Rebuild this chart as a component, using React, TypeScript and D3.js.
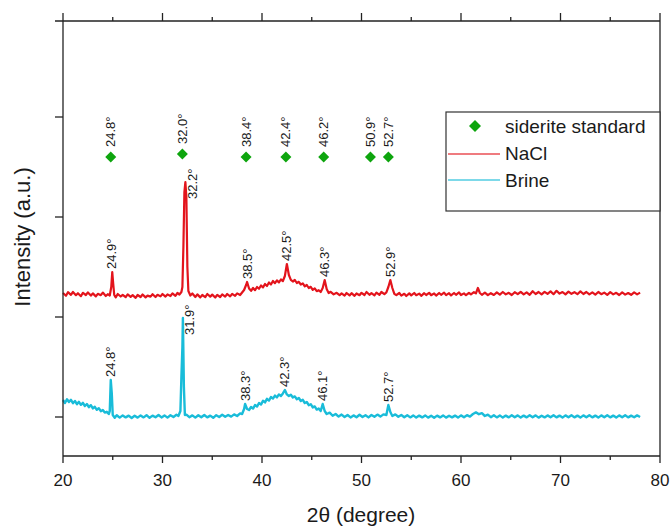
import React from "react";
import * as d3 from "d3";

// ---------- DATA ----------
const xTicksMajor = [20, 30, 40, 50, 60, 70, 80];
const xTicksMinor = [25, 35, 45, 55, 65, 75];
const yTicks = [0, 1000, 2000, 3000];

const sideriteAngles = [24.8, 32.0, 38.4, 42.4, 46.2, 50.9, 52.7];
const sideriteLabels = ["24.8°", "32.0°", "38.4°", "42.4°", "46.2°", "50.9°", "52.7°"];
const sideriteLevels = [2600, 2630, 2600, 2600, 2600, 2600, 2600];

const naclPeakAngles = [24.9, 32.2, 38.5, 42.5, 46.3, 52.9];
const naclPeakLabels = ["24.9°", "32.2°", "38.5°", "42.5°", "46.3°", "52.9°"];
const naclPeakHeights = [1450, 2350, 1350, 1530, 1370, 1370];

const brinePeakAngles = [24.8, 31.9, 38.3, 42.3, 46.1, 52.7];
const brinePeakLabels = ["24.8°", "31.9°", "38.3°", "42.3°", "46.1°", "52.7°"];
const brinePeakHeights = [370, 990, 130, 270, 130, 120];

const naclSeries: [number, number][] = [
  [20.0,1240],[20.3,1212],[20.5,1248],[20.8,1222],[21.0,1250],[21.3,1218],[21.5,1238],[21.8,1208],[22.0,1242],[22.3,1220],
  [22.5,1246],[22.8,1214],[23.0,1236],[23.3,1206],[23.5,1232],[23.8,1218],[24.0,1244],[24.3,1210],[24.5,1228],[24.7,1215],
  [24.85,1300],[24.95,1450],[25.05,1330],[25.15,1220],[25.3,1196],[25.5,1230],[25.8,1205],[26.0,1222],[26.3,1198],[26.5,1226],
  [26.8,1202],[27.0,1218],[27.3,1192],[27.5,1220],[27.8,1200],[28.0,1225],[28.3,1196],[28.5,1214],[28.8,1204],[29.0,1228],
  [29.3,1200],[29.5,1222],[29.8,1206],[30.0,1230],[30.3,1204],[30.5,1226],[30.8,1210],[31.0,1236],[31.3,1212],[31.5,1240],
  [31.7,1225],[31.9,1250],[32.0,1300],[32.1,1700],[32.2,2250],[32.3,2350],[32.4,2200],[32.5,1500],[32.6,1260],[32.8,1215],
  [33.0,1235],[33.3,1200],[33.5,1226],[33.8,1196],[34.0,1220],[34.3,1198],[34.5,1230],[34.8,1204],[35.0,1224],[35.3,1195],
  [35.5,1222],[35.8,1200],[36.0,1226],[36.3,1204],[36.5,1230],[36.8,1206],[37.0,1232],[37.3,1212],[37.5,1236],[37.8,1220],
  [38.0,1245],[38.2,1270],[38.4,1320],[38.5,1350],[38.7,1285],[38.9,1262],[39.1,1290],[39.3,1268],[39.5,1300],[39.7,1282],
  [39.9,1315],[40.1,1296],[40.3,1330],[40.5,1310],[40.7,1345],[40.9,1325],[41.1,1360],[41.3,1338],[41.5,1366],[41.7,1346],
  [41.9,1375],[42.1,1360],[42.3,1410],[42.5,1530],[42.7,1420],[42.9,1372],[43.1,1355],[43.3,1370],[43.5,1340],[43.7,1352],
  [43.9,1325],[44.1,1336],[44.3,1306],[44.5,1320],[44.7,1290],[44.9,1302],[45.1,1272],[45.3,1286],[45.5,1258],[45.7,1268],
  [45.9,1250],[46.1,1290],[46.3,1370],[46.5,1280],[46.7,1240],[46.9,1252],[47.2,1226],[47.5,1242],[47.8,1218],[48.0,1236],
  [48.3,1214],[48.5,1240],[48.8,1216],[49.0,1238],[49.3,1212],[49.5,1235],[49.8,1218],[50.0,1242],[50.3,1220],[50.5,1250],
  [50.8,1222],[51.0,1238],[51.3,1216],[51.5,1244],[51.8,1222],[52.0,1250],[52.3,1228],[52.5,1246],[52.7,1300],[52.9,1370],
  [53.1,1290],[53.3,1232],[53.5,1218],[53.8,1240],[54.0,1214],[54.3,1232],[54.5,1210],[54.8,1236],[55.0,1216],[55.3,1240],
  [55.5,1218],[55.8,1234],[56.0,1212],[56.3,1238],[56.5,1220],[56.8,1242],[57.0,1218],[57.3,1236],[57.5,1214],[57.8,1240],
  [58.0,1222],[58.3,1244],[58.5,1218],[58.8,1238],[59.0,1216],[59.3,1240],[59.5,1222],[59.8,1246],[60.0,1220],[60.3,1236],
  [60.5,1218],[60.8,1242],[61.0,1226],[61.3,1248],[61.5,1236],[61.7,1290],[61.9,1240],[62.1,1222],[62.4,1244],[62.7,1218],
  [63.0,1238],[63.3,1220],[63.6,1246],[63.9,1224],[64.2,1250],[64.5,1226],[64.8,1242],[65.1,1220],[65.4,1248],[65.7,1228],
  [66.0,1252],[66.3,1226],[66.6,1246],[66.9,1222],[67.2,1258],[67.5,1230],[67.8,1250],[68.1,1226],[68.4,1252],[68.7,1232],
  [69.0,1256],[69.3,1228],[69.6,1262],[69.9,1234],[70.2,1250],[70.5,1226],[70.8,1254],[71.1,1232],[71.4,1248],[71.7,1228],
  [72.0,1256],[72.3,1230],[72.6,1250],[72.9,1226],[73.2,1246],[73.5,1224],[73.8,1250],[74.1,1228],[74.4,1244],[74.7,1222],
  [75.0,1248],[75.3,1226],[75.6,1242],[75.9,1220],[76.2,1246],[76.5,1224],[76.8,1240],[77.1,1222],[77.4,1246],[77.7,1226],
  [78.0,1244],
];

const brineSeries: [number, number][] = [
  [20.0,170],[20.2,140],[20.4,178],[20.6,150],[20.8,172],[21.0,138],[21.2,160],[21.4,128],[21.6,152],[21.8,122],
  [22.0,142],[22.2,110],[22.4,130],[22.6,98],[22.8,118],[23.0,86],[23.2,102],[23.4,72],[23.6,88],[23.8,58],
  [24.0,70],[24.2,44],[24.4,52],[24.6,30],[24.7,60],[24.8,370],[24.9,240],[25.0,20],[25.2,-8],[25.4,18],
  [25.7,-6],[26.0,16],[26.3,-4],[26.6,14],[26.9,-10],[27.2,12],[27.5,-6],[27.8,16],[28.1,-4],[28.4,18],
  [28.7,-8],[29.0,14],[29.3,-2],[29.6,20],[29.9,-4],[30.2,16],[30.5,-6],[30.8,18],[31.1,0],[31.4,22],
  [31.6,10],[31.8,60],[31.9,400],[32.0,700],[32.05,990],[32.15,300],[32.25,20],[32.4,24],[32.7,-2],[33.0,16],
  [33.3,-6],[33.6,18],[33.9,-2],[34.2,20],[34.5,-4],[34.8,14],[35.1,-8],[35.4,18],[35.7,0],[36.0,22],
  [36.3,2],[36.6,20],[36.9,4],[37.2,26],[37.5,10],[37.8,36],[38.0,30],[38.2,80],[38.3,130],[38.5,80],
  [38.7,70],[38.9,100],[39.1,84],[39.3,120],[39.5,104],[39.7,140],[39.9,124],[40.1,162],[40.3,146],[40.5,182],
  [40.7,164],[40.9,200],[41.1,184],[41.3,214],[41.5,196],[41.7,226],[41.9,210],[42.1,236],[42.3,270],[42.5,226],
  [42.7,210],[42.9,222],[43.1,196],[43.3,206],[43.5,178],[43.7,190],[43.9,160],[44.1,172],[44.3,140],[44.5,150],
  [44.7,118],[44.9,128],[45.1,96],[45.3,106],[45.5,74],[45.7,84],[45.9,60],[46.1,130],[46.3,60],[46.5,30],
  [46.8,44],[47.1,12],[47.4,30],[47.7,4],[48.0,24],[48.3,0],[48.6,20],[48.9,-4],[49.2,16],[49.5,-2],
  [49.8,22],[50.1,0],[50.4,18],[50.7,-4],[51.0,20],[51.3,2],[51.6,24],[51.9,4],[52.2,26],[52.5,20],
  [52.7,120],[52.9,50],[53.1,10],[53.4,26],[53.7,2],[54.0,20],[54.3,-2],[54.6,18],[54.9,-4],[55.2,16],
  [55.5,-6],[55.8,14],[56.1,-4],[56.4,16],[56.7,-6],[57.0,12],[57.3,-8],[57.6,14],[57.9,-4],[58.2,16],
  [58.5,-6],[58.8,12],[59.1,-4],[59.4,14],[59.7,-6],[60.0,16],[60.3,-2],[60.6,18],[60.9,4],[61.2,30],
  [61.5,46],[61.8,28],[62.1,38],[62.4,10],[62.7,24],[63.0,-2],[63.3,18],[63.6,-4],[63.9,16],[64.2,-6],
  [64.5,14],[64.8,-4],[65.1,18],[65.4,-2],[65.7,16],[66.0,-6],[66.3,14],[66.6,-4],[66.9,18],[67.2,-2],
  [67.5,16],[67.8,-6],[68.1,12],[68.4,-4],[68.7,16],[69.0,-2],[69.3,18],[69.6,-4],[69.9,14],[70.2,-6],
  [70.5,16],[70.8,-2],[71.1,18],[71.4,-4],[71.7,14],[72.0,-6],[72.3,16],[72.6,-2],[72.9,18],[73.2,-4],
  [73.5,14],[73.8,-6],[74.1,16],[74.4,-2],[74.7,18],[75.0,-4],[75.3,14],[75.6,-6],[75.9,16],[76.2,-2],
  [76.5,18],[76.8,-4],[77.1,14],[77.4,-2],[77.7,16],[78.0,0],
];

const legendItems = ["siderite standard", "NaCl", "Brine"];

// ---------- STYLE ----------
const W = 670, H = 526;
const M = { left: 63, right: 660, top: 21, bottom: 456 };
const RED = "#e3141c";
const CYAN = "#19bcd9";
const GREEN = "#0ea50e";
const FONT = "'Liberation Sans', Arial, sans-serif";
const INK = "#1a1a1a";

export default function App() {
  const xs = d3.scaleLinear().domain([20, 80]).range([M.left, M.right]);
  const ys = d3.scaleLinear().domain([-390, 3960]).range([M.bottom, M.top]);
  const line = d3.line<[number, number]>().x((d) => xs(d[0])).y((d) => ys(d[1]));

  const diamond = (cx: number, cy: number, r: number) =>
    `M${cx},${cy - r}L${cx + r},${cy}L${cx},${cy + r}L${cx - r},${cy}Z`;

  const peakLabel = (
    angles: number[], labels: string[], heights: number[], key: string
  ) =>
    angles.map((a, i) => {
      const tallest = heights[i] === Math.max(...heights);
      const x = xs(a) + (tallest ? 8 : 0);
      const y = ys(heights[i]) + (tallest ? 17 : -3);
      return (
        <text
          key={key + i}
          transform={`translate(${x},${y}) rotate(-90)`}
          fontSize={13}
          fill={INK}
          dominantBaseline="central"
          textAnchor="start"
        >
          {labels[i]}
        </text>
      );
    });

  return (
    <svg
      width={W}
      height={H}
      style={{ position: "absolute", left: 0, top: 0, display: "block", background: "#fff" }}
      fontFamily={FONT}
    >
      <rect x={0} y={0} width={W} height={H} fill="#fff" />

      {/* series */}
      <path d={line(naclSeries) || ""} fill="none" stroke={RED} strokeWidth={2.2} strokeLinejoin="round" />
      <path d={line(brineSeries) || ""} fill="none" stroke={CYAN} strokeWidth={2.4} strokeLinejoin="round" />

      {/* siderite markers */}
      {sideriteAngles.map((a, i) => (
        <g key={"s" + i}>
          <path d={diamond(xs(a), ys(sideriteLevels[i]), 5.5)} fill={GREEN} />
          <text
            transform={`translate(${xs(a)},${ys(sideriteLevels[i]) - 10}) rotate(-90)`}
            fontSize={13}
            fill={INK}
            dominantBaseline="central"
          >
            {sideriteLabels[i]}
          </text>
        </g>
      ))}

      {peakLabel(naclPeakAngles, naclPeakLabels, naclPeakHeights, "n")}
      {peakLabel(brinePeakAngles, brinePeakLabels, brinePeakHeights, "b")}

      {/* frame */}
      <g stroke="#222" strokeWidth={1.3} fill="none">
        <line x1={M.left} x2={M.right} y1={M.bottom} y2={M.bottom} />
        <line x1={M.left - 8} x2={M.right} y1={M.top} y2={M.top} />
        <line x1={M.left} x2={M.left} y1={M.top} y2={M.bottom} />
        <line x1={M.right} x2={M.right} y1={M.top} y2={M.bottom} />
        {xTicksMajor.map((t) => (
          <g key={"xm" + t}>
            <line x1={xs(t)} x2={xs(t)} y1={M.bottom} y2={M.bottom + 7} />
            <line x1={xs(t)} x2={xs(t)} y1={M.top} y2={M.top - 8} />
          </g>
        ))}
        {xTicksMinor.map((t) => (
          <g key={"xn" + t}>
            <line x1={xs(t)} x2={xs(t)} y1={M.bottom} y2={M.bottom + 4} />
            <line x1={xs(t)} x2={xs(t)} y1={M.top} y2={M.top - 4} />
          </g>
        ))}
        {yTicks.map((t) => (
          <line key={"y" + t} x1={M.left - 8} x2={M.left} y1={ys(t)} y2={ys(t)} />
        ))}
      </g>

      {/* x tick labels */}
      {xTicksMajor.map((t) => (
        <text key={"xl" + t} x={xs(t)} y={486} fontSize={17} textAnchor="middle" fill={INK}>
          {t}
        </text>
      ))}

      {/* axis titles */}
      <text x={361} y={522} fontSize={21} textAnchor="middle" fill={INK}>
        2θ (degree)
      </text>
      <text transform="translate(30,237) rotate(-90)" fontSize={22} textAnchor="middle" fill={INK}>
        Intensity (a.u.)
      </text>

      {/* legend */}
      <g>
        <rect x={446} y={112} width={214} height={99} fill="#fff" stroke="#333" strokeWidth={1.2} />
        <path d={diamond(475, 126, 6)} fill={GREEN} />
        <line x1={448} x2={500} y1={154} y2={154} stroke={RED} strokeWidth={1.3} opacity={0.75} />
        <line x1={448} x2={500} y1={180} y2={180} stroke={CYAN} strokeWidth={1.3} opacity={0.75} />
        {legendItems.map((t, i) => (
          <text key={"l" + i} x={505} y={133 + i * 27} fontSize={19} fill={INK}>
            {t}
          </text>
        ))}
      </g>
    </svg>
  );
}
